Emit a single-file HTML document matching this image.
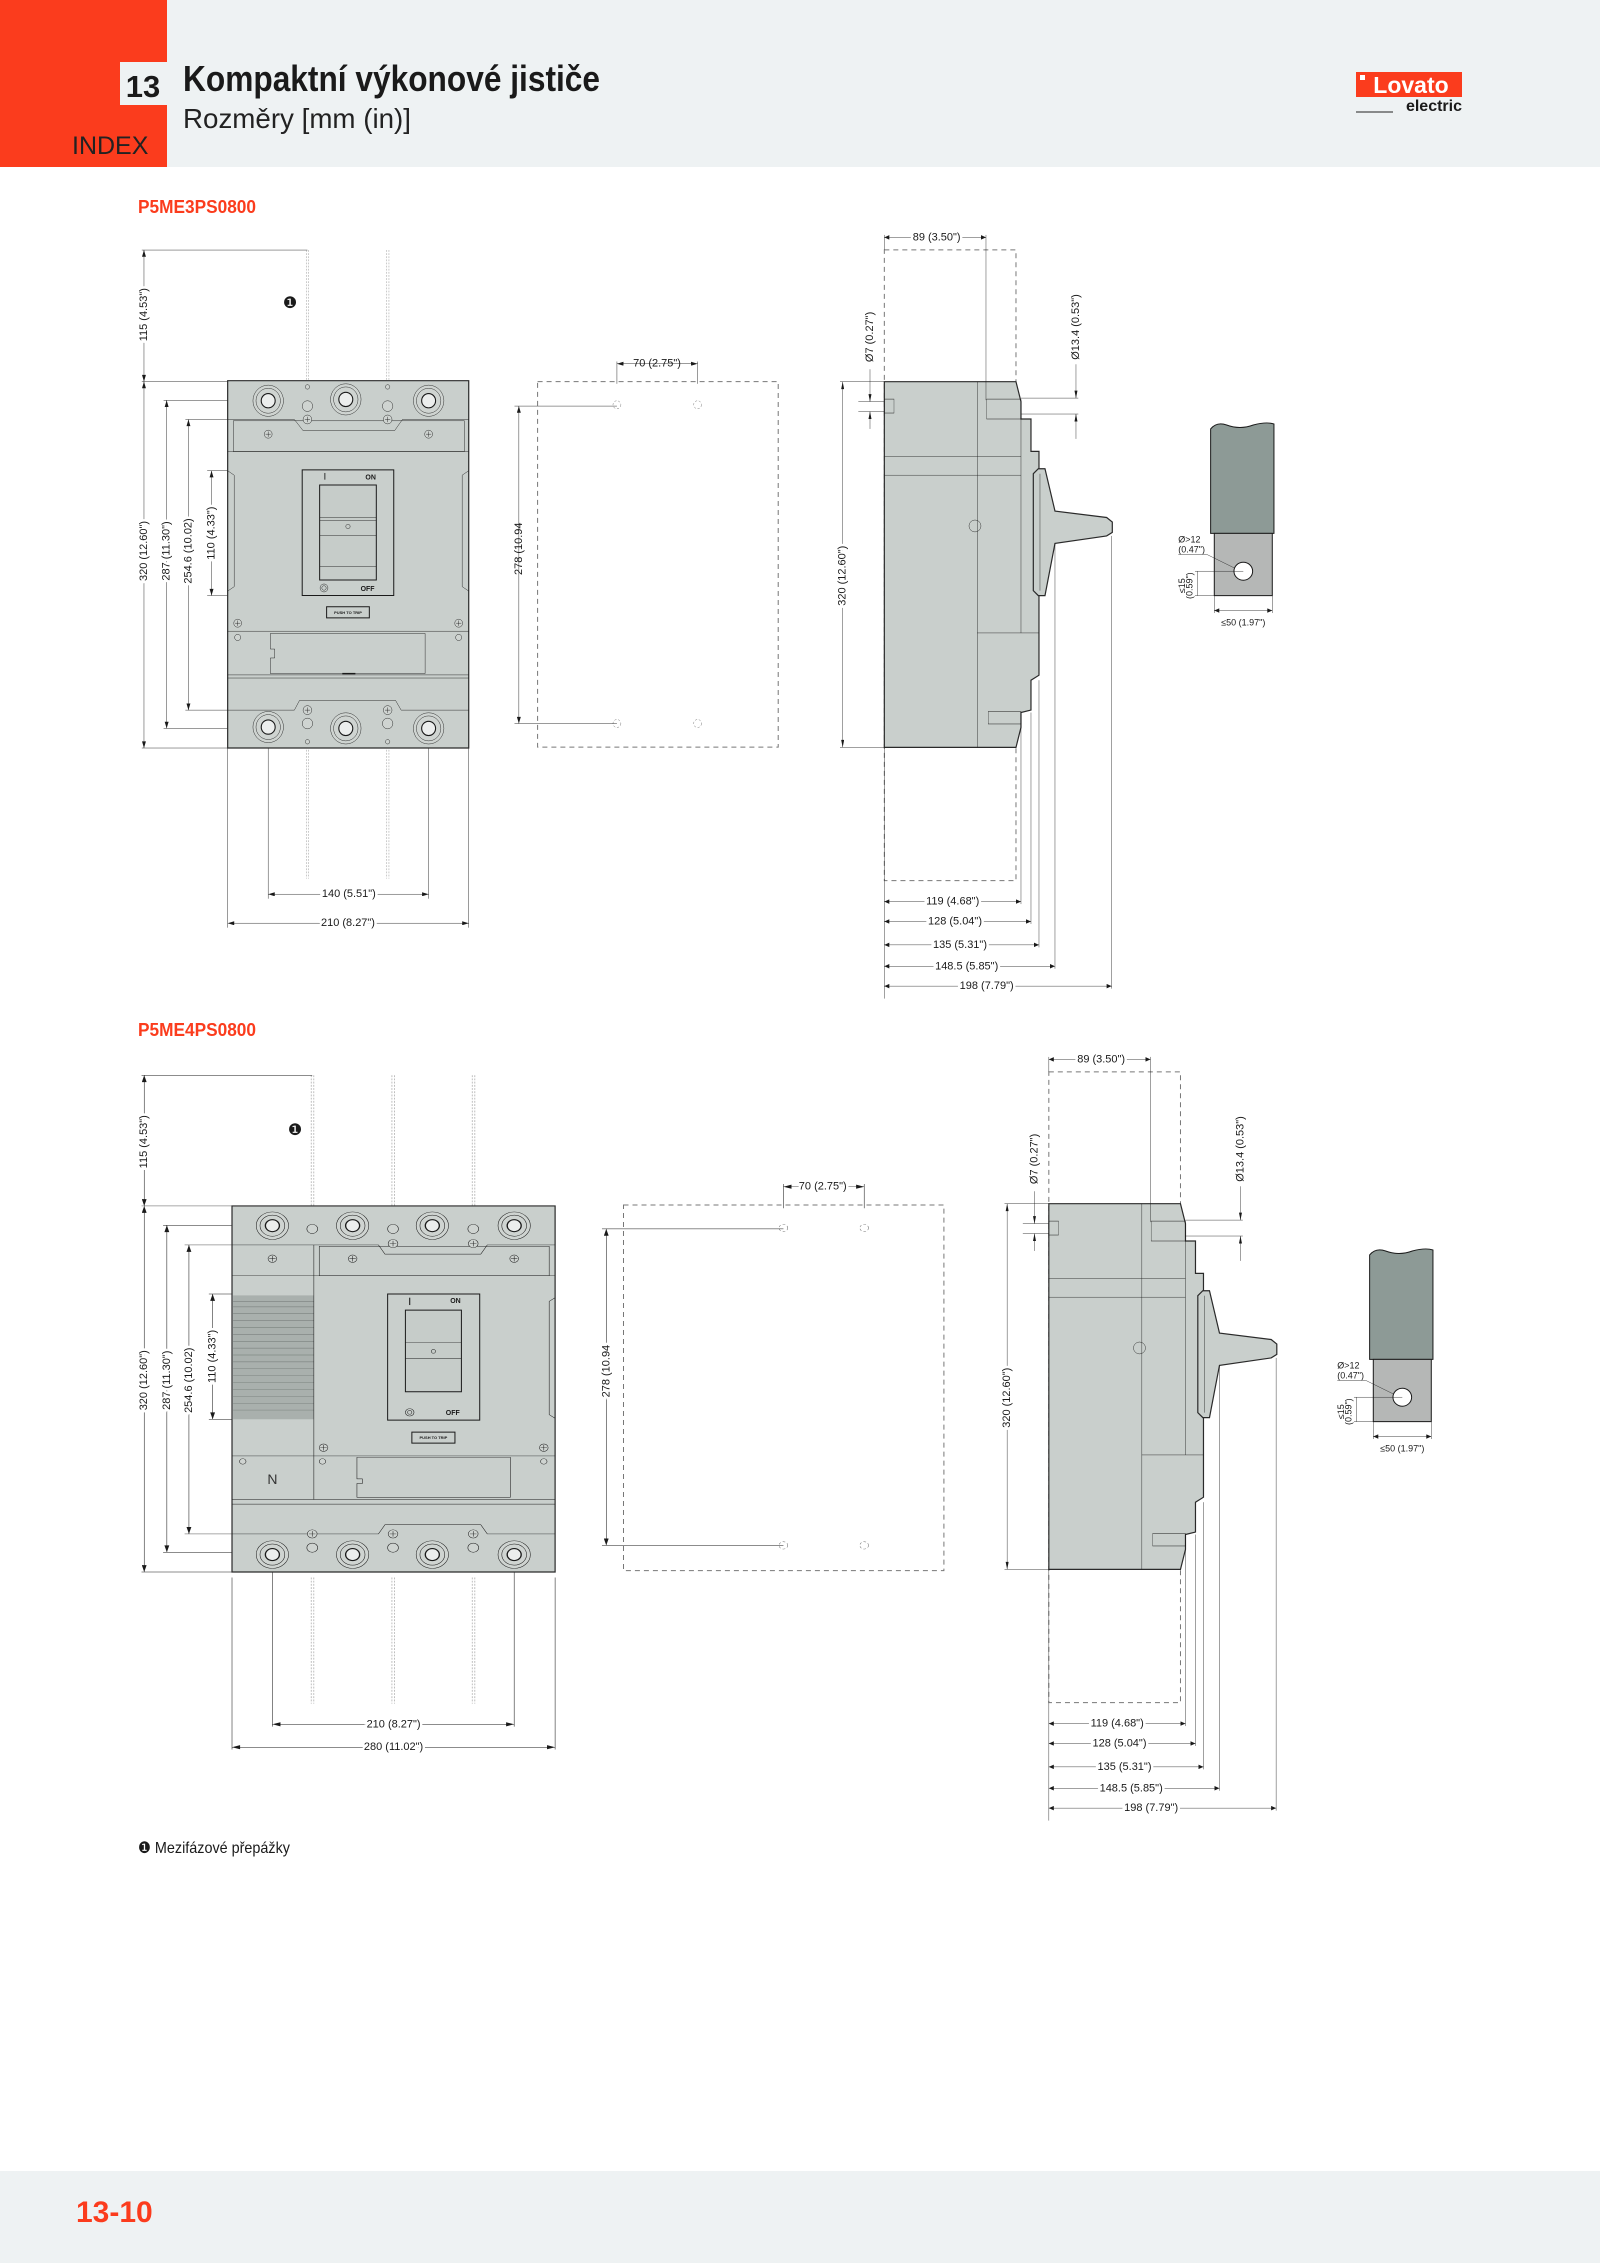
<!DOCTYPE html>
<html><head><meta charset="utf-8">
<style>
html,body{margin:0;padding:0;background:#fff}
body{width:1600px;height:2263px;position:relative;overflow:hidden;font-family:"Liberation Sans Narrow","Liberation Sans",sans-serif}
svg{position:absolute;left:0;top:0}
.l,.b,.dh,.ds,.bd{vector-effect:non-scaling-stroke}
.l{stroke:#1a1a1a;stroke-width:1}
.b{stroke:#2a2a2a;stroke-width:1.2;fill:#c9cfcc}
.ds{stroke:#777;stroke-width:1;fill:none;stroke-dasharray:5 4}
.dh{stroke:#666;stroke-width:1;fill:none;stroke-dasharray:5 4}
.bd{stroke:#888;stroke-width:1;fill:none;stroke-dasharray:4 3}
text{font-family:"Liberation Sans Narrow","Liberation Sans",sans-serif;fill:#1a1a1a}
.t{font-size:11px;text-anchor:middle;dominant-baseline:central;paint-order:stroke;stroke:#fff;stroke-width:5px}
.k{font-weight:bold;font-size:7px;text-anchor:middle;dominant-baseline:central}
</style></head><body>
<svg width="1600" height="2263" viewBox="0 0 1600 2263" xmlns="http://www.w3.org/2000/svg">
<defs>
<marker id="a" viewBox="0 0 10 6" refX="10" refY="3" markerWidth="16" markerHeight="9" markerUnits="userSpaceOnUse" orient="auto-start-reverse"><path d="M0,0 L10,3 L0,6z" fill="#1a1a1a"/></marker>
</defs>
<!-- header -->
<rect x="0" y="0" width="1600" height="167" fill="#eef2f3"/>
<rect x="0" y="0" width="167" height="167" fill="#fb3c1d"/>
<rect x="120" y="62" width="47" height="43" fill="#eef2f3"/>
<text x="143" y="97" style="font-size:31px;font-weight:bold;text-anchor:middle">13</text>
<text x="72" y="154" style="font-size:25px;fill:#222">INDEX</text>
<text x="183" y="91" textLength="417" lengthAdjust="spacingAndGlyphs" style="font-size:36px;font-weight:bold">Kompaktní výkonové jističe</text>
<text x="183" y="128" textLength="228" lengthAdjust="spacingAndGlyphs" style="font-size:28px;fill:#222">Rozměry [mm (in)]</text>
<rect x="1356" y="72" width="106" height="25" fill="#fb3c1d"/>
<rect x="1360" y="75" width="5" height="5" fill="#fff"/>
<text x="1411" y="93" style="font-size:23px;font-weight:bold;fill:#fff;text-anchor:middle">Lovato</text>
<text x="1462" y="111" style="font-size:16px;font-weight:bold;text-anchor:end">electric</text>
<line x1="1356" y1="112" x2="1393" y2="112" stroke="#222" stroke-width="1"/>
<text x="138" y="213" textLength="118" lengthAdjust="spacingAndGlyphs" style="font-size:18px;font-weight:bold;fill:#fb3c1d">P5ME3PS0800</text>
<text x="138" y="1036" textLength="118" lengthAdjust="spacingAndGlyphs" style="font-size:18px;font-weight:bold;fill:#fb3c1d">P5ME4PS0800</text>
<text x="138" y="1853" textLength="152" lengthAdjust="spacingAndGlyphs" style="font-size:16px">❶ Mezifázové přepážky</text>
<rect x="0" y="2171" width="1600" height="92" fill="#eef2f3"/>
<text x="76" y="2222" style="font-size:30px;font-weight:bold;fill:#fb3c1d">13-10</text>

<!-- ===== Section 1 front (zoom2 coords) ===== -->
<g transform="translate(120,230) scale(0.4359,0.4458)">
<g class="l" fill="none">
<line x1="50" y1="45" x2="430" y2="45"/><line x1="50" y1="340" x2="247" y2="340"/>
<line x1="55" y1="45" x2="55" y2="340" marker-start="url(#a)" marker-end="url(#a)"/>
<line x1="55" y1="340" x2="55" y2="1162" marker-start="url(#a)" marker-end="url(#a)"/>
<line x1="50" y1="1162" x2="247" y2="1162"/>
<line x1="100" y1="382" x2="340" y2="382"/><line x1="100" y1="1118" x2="340" y2="1118"/>
<line x1="107" y1="382" x2="107" y2="1118" marker-start="url(#a)" marker-end="url(#a)"/>
<line x1="150" y1="425" x2="250" y2="425"/><line x1="150" y1="1077" x2="250" y2="1077"/>
<line x1="157" y1="425" x2="157" y2="1077" marker-start="url(#a)" marker-end="url(#a)"/>
<line x1="200" y1="540" x2="405" y2="540"/><line x1="200" y1="820" x2="405" y2="820"/>
<line x1="210" y1="540" x2="210" y2="820" marker-start="url(#a)" marker-end="url(#a)"/>
<line x1="340" y1="1130" x2="340" y2="1500"/><line x1="708" y1="1130" x2="708" y2="1500"/>
<line x1="247" y1="1162" x2="247" y2="1565"/><line x1="800" y1="1162" x2="800" y2="1565"/>
<line x1="340" y1="1490" x2="708" y2="1490" marker-start="url(#a)" marker-end="url(#a)"/>
<line x1="247" y1="1555" x2="800" y2="1555" marker-start="url(#a)" marker-end="url(#a)"/>
</g>
<g class="bd"><line x1="428" y1="45" x2="428" y2="345"/><line x1="433" y1="45" x2="433" y2="345"/><line x1="612" y1="45" x2="612" y2="345"/><line x1="617" y1="45" x2="617" y2="345"/>
<line x1="428" y1="1145" x2="428" y2="1455"/><line x1="433" y1="1145" x2="433" y2="1455"/><line x1="612" y1="1145" x2="612" y2="1455"/><line x1="617" y1="1145" x2="617" y2="1455"/></g>
<rect class="b" x="247" y="338" width="553" height="824"/>
<g class="l" fill="none">
<path d="M247,425 H400 L420,450 H630 L648,425 H800"/>
<rect x="260" y="428" width="530" height="69"/>
<line x1="247" y1="497" x2="800" y2="497"/>
<path d="M247,540 L262,550 V800 L247,810"/><path d="M800,540 L785,550 V800 L800,810"/>
<line x1="247" y1="900" x2="800" y2="900"/>
<path d="M345,905 H700 V995 H345 V960 H355 V940 H345 Z"/>
<line x1="247" y1="998" x2="800" y2="998"/><line x1="247" y1="1005" x2="800" y2="1005"/>
<path d="M247,1077 H400 L412,1055 H632 L645,1077 H800"/>
<line x1="510" y1="995" x2="540" y2="995" stroke-width="3"/>
</g>
<g class="l" fill="#cfd4d1">
<circle cx="340" cy="383" r="35"/><circle cx="340" cy="383" r="28"/><circle cx="340" cy="383" r="16" fill="#eceeed" stroke-width="2.5"/>
<circle cx="518" cy="380" r="35"/><circle cx="518" cy="380" r="28"/><circle cx="518" cy="380" r="16" fill="#eceeed" stroke-width="2.5"/>
<circle cx="708" cy="383" r="35"/><circle cx="708" cy="383" r="28"/><circle cx="708" cy="383" r="16" fill="#eceeed" stroke-width="2.5"/>
<circle cx="340" cy="1115" r="35"/><circle cx="340" cy="1115" r="28"/><circle cx="340" cy="1115" r="16" fill="#eceeed" stroke-width="2.5"/>
<circle cx="518" cy="1118" r="35"/><circle cx="518" cy="1118" r="28"/><circle cx="518" cy="1118" r="16" fill="#eceeed" stroke-width="2.5"/>
<circle cx="708" cy="1118" r="35"/><circle cx="708" cy="1118" r="28"/><circle cx="708" cy="1118" r="16" fill="#eceeed" stroke-width="2.5"/>
<circle cx="430" cy="395" r="12"/><circle cx="614" cy="395" r="12"/><circle cx="430" cy="1107" r="12"/><circle cx="614" cy="1107" r="12"/>
<circle cx="430" cy="425" r="10"/><circle cx="614" cy="425" r="10"/><circle cx="430" cy="1077" r="10"/><circle cx="614" cy="1077" r="10"/>
<circle cx="340" cy="458" r="9"/><circle cx="708" cy="458" r="9"/><circle cx="270" cy="882" r="9"/><circle cx="777" cy="882" r="9"/>
<circle cx="270" cy="914" r="7"/><circle cx="777" cy="914" r="7"/>
<circle cx="430" cy="352" r="5"/><circle cx="614" cy="352" r="5"/><circle cx="430" cy="1148" r="5"/><circle cx="614" cy="1148" r="5"/>
</g>
<g class="l" fill="none"><path d="M424,425h12M430,419v12M608,425h12M614,419v12M424,1077h12M430,1071v12M608,1077h12M614,1071v12M334,458h12M340,452v12M702,458h12M708,452v12M264,882h12M270,876v12M771,882h12M777,876v12"/></g>
<rect class="l" x="418" y="538" width="210" height="282" fill="#c9cfcc"/>
<rect class="l" x="458" y="572" width="130" height="213" fill="#c6ccc9"/>
<g class="l" fill="none"><line x1="458" y1="645" x2="588" y2="645"/><line x1="458" y1="652" x2="588" y2="652"/><line x1="458" y1="685" x2="588" y2="685"/><line x1="458" y1="755" x2="588" y2="755"/><circle cx="523" cy="665" r="5"/><circle cx="468" cy="803" r="9"/><circle cx="468" cy="803" r="5"/><line x1="470" y1="545" x2="470" y2="560" stroke-width="2"/></g>
<rect class="l" x="474" y="845" width="98" height="25" fill="#c9cfcc"/>
<text transform="translate(575,556) scale(2.294,2.243)" class="k">ON</text>
<text transform="translate(568,806) scale(2.294,2.243)" class="k">OFF</text>
<text transform="translate(523,858) scale(2.294,2.243)" class="k" style="font-size:4px">PUSH TO TRIP</text>
<text transform="translate(390,165) scale(2.294,2.243)" style="font-size:16px;text-anchor:middle;dominant-baseline:central">❶</text>
<text class="t" transform="translate(55,190) scale(2.294,2.243) rotate(-90)">115 (4.53")</text>
<text class="t" transform="translate(55,720) scale(2.294,2.243) rotate(-90)">320 (12.60")</text>
<text class="t" transform="translate(107,720) scale(2.294,2.243) rotate(-90)">287 (11.30")</text>
<text class="t" transform="translate(157,720) scale(2.294,2.243) rotate(-90)">254.6 (10.02)</text>
<text class="t" transform="translate(210,680) scale(2.294,2.243) rotate(-90)">110 (4.33")</text>
<text class="t" transform="translate(525,1490) scale(2.294,2.243)">140 (5.51")</text>
<text class="t" transform="translate(523,1555) scale(2.294,2.243)">210 (8.27")</text>
<text class="t" transform="translate(1232,300) scale(2.294,2.243)">70 (2.75")</text>
<text class="t" transform="translate(915,715) scale(2.294,2.243) rotate(-90)">278 (10.94</text>
<!-- template -->
<rect class="ds" x="958" y="340" width="552" height="820"/>
<g class="dh"><circle cx="1140" cy="392" r="9"/><circle cx="1325" cy="392" r="9"/><circle cx="1140" cy="1107" r="9"/><circle cx="1325" cy="1107" r="9"/></g>
<g class="l" fill="none">
<line x1="1140" y1="300" x2="1325" y2="300" marker-start="url(#a)" marker-end="url(#a)"/>
<line x1="1140" y1="295" x2="1140" y2="345"/><line x1="1325" y1="295" x2="1325" y2="345"/>
<line x1="905" y1="395" x2="1140" y2="395"/><line x1="905" y1="1107" x2="1140" y2="1107"/>
<line x1="915" y1="395" x2="915" y2="1107" marker-start="url(#a)" marker-end="url(#a)"/>
</g>
</g>

<!-- ===== Section 1 side view (zoom3 coords) ===== -->
<g transform="translate(820,220) scale(0.3333,0.4975)">
<rect class="ds" x="193" y="60" width="395" height="1268"/>
<path class="b" d="M193,325 H588 L603,365 V400 H633 V465 H657 V915 L633,925 V985 L603,990 V1020 L588,1060 H193 Z"/>
<path class="b" d="M640,510 L655,500 H675 L705,585 L860,598 L877,607 V628 L860,635 L705,650 L675,755 H655 L640,745 Z"/>
<g class="l" fill="none">
<line x1="472" y1="325" x2="472" y2="1060"/>
<line x1="193" y1="475" x2="603" y2="475"/><line x1="193" y1="513" x2="603" y2="513"/>
<line x1="603" y1="400" x2="603" y2="830"/><line x1="472" y1="830" x2="657" y2="830"/>
<rect x="505" y="988" width="98" height="25"/>
<rect x="193" y="360" width="29" height="28"/><rect x="500" y="360" width="103" height="40"/>
<line x1="660" y1="510" x2="660" y2="745"/>
<ellipse cx="465" cy="615" rx="18" ry="12"/>
<line x1="193" y1="30" x2="193" y2="60"/><line x1="498" y1="30" x2="498" y2="362"/>
<line x1="193" y1="35" x2="498" y2="35" marker-start="url(#a)" marker-end="url(#a)"/>
<line x1="115" y1="365" x2="193" y2="365"/><line x1="115" y1="385" x2="193" y2="385"/>
<line x1="150" y1="300" x2="150" y2="365" marker-end="url(#a)"/><line x1="150" y1="420" x2="150" y2="385" marker-end="url(#a)"/>
<line x1="603" y1="358" x2="775" y2="358"/><line x1="603" y1="390" x2="775" y2="390"/>
<line x1="768" y1="290" x2="768" y2="358" marker-end="url(#a)"/><line x1="768" y1="440" x2="768" y2="390" marker-end="url(#a)"/>
<line x1="60" y1="325" x2="193" y2="325"/><line x1="60" y1="1060" x2="193" y2="1060"/>
<line x1="68" y1="325" x2="68" y2="1060" marker-start="url(#a)" marker-end="url(#a)"/>
<line x1="193" y1="1060" x2="193" y2="1565"/>
<line x1="603" y1="990" x2="603" y2="1375"/><line x1="633" y1="990" x2="633" y2="1415"/><line x1="657" y1="925" x2="657" y2="1462"/><line x1="705" y1="650" x2="705" y2="1505"/><line x1="875" y1="635" x2="875" y2="1545"/>
<line x1="193" y1="1370" x2="603" y2="1370" marker-start="url(#a)" marker-end="url(#a)"/>
<line x1="193" y1="1410" x2="633" y2="1410" marker-start="url(#a)" marker-end="url(#a)"/>
<line x1="193" y1="1457" x2="657" y2="1457" marker-start="url(#a)" marker-end="url(#a)"/>
<line x1="193" y1="1500" x2="705" y2="1500" marker-start="url(#a)" marker-end="url(#a)"/>
<line x1="193" y1="1540" x2="875" y2="1540" marker-start="url(#a)" marker-end="url(#a)"/>
</g>
<text class="t" transform="translate(350,35) scale(3,2.01)">89 (3.50")</text>
<text class="t" transform="translate(150,235) scale(3,2.01) rotate(-90)">Ø7 (0.27")</text>
<text class="t" transform="translate(768,215) scale(3,2.01) rotate(-90)">Ø13.4 (0.53")</text>
<text class="t" transform="translate(68,715) scale(3,2.01) rotate(-90)">320 (12.60")</text>
<text class="t" transform="translate(398,1370) scale(3,2.01)">119 (4.68")</text>
<text class="t" transform="translate(405,1410) scale(3,2.01)">128 (5.04")</text>
<text class="t" transform="translate(420,1457) scale(3,2.01)">135 (5.31")</text>
<text class="t" transform="translate(440,1500) scale(3,2.01)">148.5 (5.85")</text>
<text class="t" transform="translate(500,1540) scale(3,2.01)">198 (7.79")</text>
<!-- busbar -->
<path class="l" d="M1172,420 Q1190,405 1220,412 Q1260,422 1300,412 Q1340,405 1362,410 V630 H1172 Z" fill="#8d9a96"/>
<rect class="l" x="1183" y="630" width="174" height="125" fill="#b5b7b6"/>
<ellipse class="l" cx="1270" cy="706" rx="28" ry="18" fill="#fff"/>
<g class="l" fill="none"><line x1="1075" y1="672" x2="1160" y2="672"/><line x1="1160" y1="672" x2="1245" y2="700"/>
<line x1="1125" y1="706" x2="1270" y2="706"/><line x1="1125" y1="755" x2="1183" y2="755"/>
<line x1="1133" y1="706" x2="1133" y2="755"/>
<line x1="1183" y1="755" x2="1183" y2="790"/><line x1="1357" y1="755" x2="1357" y2="790"/>
<line x1="1183" y1="785" x2="1357" y2="785" marker-start="url(#a)" marker-end="url(#a)"/></g>
<text transform="translate(1075,648) scale(3,2.01)" style="font-size:9px">Ø&gt;12</text>
<text transform="translate(1075,668) scale(3,2.01)" style="font-size:9px">(0.47")</text>
<text transform="translate(1095,735) scale(3,2.01) rotate(-90)" style="font-size:9px;text-anchor:middle">≤15</text>
<text transform="translate(1118,735) scale(3,2.01) rotate(-90)" style="font-size:9px;text-anchor:middle">(0.59")</text>
<text transform="translate(1270,815) scale(3,2.01)" style="font-size:9px;text-anchor:middle">≤50 (1.97")</text>
</g>

<!-- ===== Section 2 front (zoom4 coords) ===== -->
<g transform="translate(120,1050) scale(0.5385,0.4587)">
<g class="l" fill="none">
<line x1="40" y1="55" x2="357" y2="55"/><line x1="40" y1="340" x2="208" y2="340"/><line x1="40" y1="1138" x2="208" y2="1138"/>
<line x1="45" y1="55" x2="45" y2="340" marker-start="url(#a)" marker-end="url(#a)"/>
<line x1="45" y1="340" x2="45" y2="1138" marker-start="url(#a)" marker-end="url(#a)"/>
<line x1="80" y1="382" x2="285" y2="382"/><line x1="80" y1="1095" x2="285" y2="1095"/>
<line x1="87" y1="382" x2="87" y2="1095" marker-start="url(#a)" marker-end="url(#a)"/>
<line x1="120" y1="425" x2="210" y2="425"/><line x1="120" y1="1055" x2="355" y2="1055"/>
<line x1="128" y1="425" x2="128" y2="1055" marker-start="url(#a)" marker-end="url(#a)"/>
<line x1="165" y1="532" x2="495" y2="532"/><line x1="165" y1="805" x2="360" y2="805"/>
<line x1="172" y1="532" x2="172" y2="805" marker-start="url(#a)" marker-end="url(#a)"/>
<line x1="283" y1="1110" x2="283" y2="1475"/><line x1="732" y1="1110" x2="732" y2="1475"/>
<line x1="208" y1="1150" x2="208" y2="1525"/><line x1="808" y1="1150" x2="808" y2="1525"/>
<line x1="283" y1="1470" x2="732" y2="1470" marker-start="url(#a)" marker-end="url(#a)"/>
<line x1="208" y1="1520" x2="808" y2="1520" marker-start="url(#a)" marker-end="url(#a)"/>
</g>
<g class="bd"><line x1="355" y1="55" x2="355" y2="345"/><line x1="360" y1="55" x2="360" y2="345"/><line x1="505" y1="55" x2="505" y2="345"/><line x1="510" y1="55" x2="510" y2="345"/><line x1="654" y1="55" x2="654" y2="345"/><line x1="659" y1="55" x2="659" y2="345"/>
<line x1="355" y1="1150" x2="355" y2="1425"/><line x1="360" y1="1150" x2="360" y2="1425"/><line x1="505" y1="1150" x2="505" y2="1425"/><line x1="510" y1="1150" x2="510" y2="1425"/><line x1="654" y1="1150" x2="654" y2="1425"/><line x1="659" y1="1150" x2="659" y2="1425"/></g>
<rect class="b" x="208" y="340" width="600" height="798"/>
<rect x="210" y="535" width="150" height="270" fill="#a9b0ad"/>
<g class="l" fill="none">
<path d="M210,548H360M210,560H360M210,575H360M210,590H360M210,605H360M210,620H360M210,635H360M210,650H360M210,665H360M210,680H360M210,695H360M210,710H360M210,725H360M210,740H360M210,755H360M210,770H360M210,785H360" stroke="#6f7673"/>
<path d="M208,425 H480 L492,445 H670 L682,425 H808"/>
<rect x="370" y="428" width="427" height="64"/>
<line x1="208" y1="492" x2="808" y2="492"/>
<line x1="360" y1="425" x2="360" y2="980"/>
<path d="M808,540 L797,548 V795 L808,803"/>
<line x1="208" y1="885" x2="808" y2="885"/>
<path d="M440,888 H725 V975 H440 V945 H450 V935 H440 Z"/>
<line x1="208" y1="980" x2="808" y2="980"/><line x1="208" y1="990" x2="808" y2="990"/>
<path d="M208,1055 H480 L492,1035 H670 L682,1055 H808"/>
</g>
<g class="l" fill="#cfd4d1">
<circle cx="283" cy="383" r="30"/><circle cx="283" cy="383" r="23"/><circle cx="283" cy="383" r="13" fill="#eceeed" stroke-width="2.5"/>
<circle cx="432" cy="383" r="30"/><circle cx="432" cy="383" r="23"/><circle cx="432" cy="383" r="13" fill="#eceeed" stroke-width="2.5"/>
<circle cx="580" cy="383" r="30"/><circle cx="580" cy="383" r="23"/><circle cx="580" cy="383" r="13" fill="#eceeed" stroke-width="2.5"/>
<circle cx="732" cy="383" r="30"/><circle cx="732" cy="383" r="23"/><circle cx="732" cy="383" r="13" fill="#eceeed" stroke-width="2.5"/>
<circle cx="283" cy="1100" r="30"/><circle cx="283" cy="1100" r="23"/><circle cx="283" cy="1100" r="13" fill="#eceeed" stroke-width="2.5"/>
<circle cx="432" cy="1100" r="30"/><circle cx="432" cy="1100" r="23"/><circle cx="432" cy="1100" r="13" fill="#eceeed" stroke-width="2.5"/>
<circle cx="580" cy="1100" r="30"/><circle cx="580" cy="1100" r="23"/><circle cx="580" cy="1100" r="13" fill="#eceeed" stroke-width="2.5"/>
<circle cx="732" cy="1100" r="30"/><circle cx="732" cy="1100" r="23"/><circle cx="732" cy="1100" r="13" fill="#eceeed" stroke-width="2.5"/>
<circle cx="357" cy="390" r="10"/><circle cx="507" cy="390" r="10"/><circle cx="656" cy="390" r="10"/>
<circle cx="507" cy="422" r="9"/><circle cx="656" cy="422" r="9"/>
<circle cx="357" cy="1055" r="9"/><circle cx="507" cy="1055" r="9"/><circle cx="656" cy="1055" r="9"/>
<circle cx="357" cy="1085" r="10"/><circle cx="507" cy="1085" r="10"/><circle cx="656" cy="1085" r="10"/>
<circle cx="283" cy="455" r="8"/><circle cx="432" cy="455" r="8"/><circle cx="732" cy="455" r="8"/>
<circle cx="378" cy="867" r="8"/><circle cx="787" cy="867" r="8"/>
<circle cx="228" cy="897" r="6"/><circle cx="376" cy="897" r="6"/><circle cx="787" cy="897" r="6"/>
<path fill="none" d="M501,422h12M507,416v12M650,422h12M656,416v12M351,1055h12M357,1049v12M501,1055h12M507,1049v12M650,1055h12M656,1049v12M277,455h12M283,449v12M426,455h12M432,449v12M726,455h12M732,449v12M372,867h12M378,861v12M781,867h12M787,861v12"/>
</g>
<rect class="l" x="497" y="532" width="171" height="275" fill="#c9cfcc"/>
<rect class="l" x="530" y="567" width="104" height="178" fill="#c6ccc9"/>
<g class="l" fill="none"><line x1="530" y1="637" x2="634" y2="637"/><line x1="530" y1="672" x2="634" y2="672"/><circle cx="582" cy="657" r="4"/><circle cx="538" cy="790" r="8"/><circle cx="538" cy="790" r="4"/><line x1="538" y1="540" x2="538" y2="556" stroke-width="2"/></g>
<rect class="l" x="542" y="833" width="80" height="24" fill="#c9cfcc"/>
<text transform="translate(623,548) scale(1.857,2.18)" class="k">ON</text>
<text transform="translate(618,792) scale(1.857,2.18)" class="k">OFF</text>
<text transform="translate(582,845) scale(1.857,2.18)" class="k" style="font-size:4px">PUSH TO TRIP</text>
<text transform="translate(283,935) scale(1.857,2.18)" style="font-size:14px;text-anchor:middle;dominant-baseline:central;fill:#333">N</text>
<text transform="translate(325,175) scale(1.857,2.18)" style="font-size:16px;text-anchor:middle;dominant-baseline:central">❶</text>
<text class="t" transform="translate(45,200) scale(1.857,2.18) rotate(-90)">115 (4.53")</text>
<text class="t" transform="translate(45,720) scale(1.857,2.18) rotate(-90)">320 (12.60")</text>
<text class="t" transform="translate(87,720) scale(1.857,2.18) rotate(-90)">287 (11.30")</text>
<text class="t" transform="translate(128,720) scale(1.857,2.18) rotate(-90)">254.6 (10.02)</text>
<text class="t" transform="translate(172,668) scale(1.857,2.18) rotate(-90)">110 (4.33")</text>
<text class="t" transform="translate(508,1470) scale(1.857,2.18)">210 (8.27")</text>
<text class="t" transform="translate(508,1520) scale(1.857,2.18)">280 (11.02")</text>
<!-- template -->
<rect class="ds" x="935" y="338" width="595" height="797"/>
<g class="dh"><circle cx="1232" cy="388" r="8"/><circle cx="1382" cy="388" r="8"/><circle cx="1232" cy="1080" r="8"/><circle cx="1382" cy="1080" r="8"/></g>
<g class="l" fill="none">
<line x1="1232" y1="298" x2="1382" y2="298" marker-start="url(#a)" marker-end="url(#a)"/>
<line x1="1232" y1="292" x2="1232" y2="345"/><line x1="1382" y1="292" x2="1382" y2="345"/>
<line x1="895" y1="390" x2="1232" y2="390"/><line x1="895" y1="1080" x2="1232" y2="1080"/>
<line x1="903" y1="390" x2="903" y2="1080" marker-start="url(#a)" marker-end="url(#a)"/>
</g>
<text class="t" transform="translate(1305,298) scale(1.857,2.18)">70 (2.75")</text>
<text class="t" transform="translate(903,700) scale(1.857,2.18) rotate(-90)">278 (10.94</text>
</g>

<!-- ===== Section 2 side view ===== -->
<g transform="translate(984.5,1042) scale(0.3333,0.4975)">
<rect class="ds" x="193" y="60" width="395" height="1268"/>
<path class="b" d="M193,325 H588 L603,365 V400 H633 V465 H657 V915 L633,925 V985 L603,990 V1020 L588,1060 H193 Z"/>
<path class="b" d="M640,510 L655,500 H675 L705,585 L860,598 L877,607 V628 L860,635 L705,650 L675,755 H655 L640,745 Z"/>
<g class="l" fill="none">
<line x1="472" y1="325" x2="472" y2="1060"/>
<line x1="193" y1="475" x2="603" y2="475"/><line x1="193" y1="513" x2="603" y2="513"/>
<line x1="603" y1="400" x2="603" y2="830"/><line x1="472" y1="830" x2="657" y2="830"/>
<rect x="505" y="988" width="98" height="25"/>
<rect x="193" y="360" width="29" height="28"/><rect x="500" y="360" width="103" height="40"/>
<line x1="660" y1="510" x2="660" y2="745"/>
<ellipse cx="465" cy="615" rx="18" ry="12"/>
<line x1="193" y1="30" x2="193" y2="60"/><line x1="498" y1="30" x2="498" y2="362"/>
<line x1="193" y1="35" x2="498" y2="35" marker-start="url(#a)" marker-end="url(#a)"/>
<line x1="115" y1="365" x2="193" y2="365"/><line x1="115" y1="385" x2="193" y2="385"/>
<line x1="150" y1="300" x2="150" y2="365" marker-end="url(#a)"/><line x1="150" y1="420" x2="150" y2="385" marker-end="url(#a)"/>
<line x1="603" y1="358" x2="775" y2="358"/><line x1="603" y1="390" x2="775" y2="390"/>
<line x1="768" y1="290" x2="768" y2="358" marker-end="url(#a)"/><line x1="768" y1="440" x2="768" y2="390" marker-end="url(#a)"/>
<line x1="60" y1="325" x2="193" y2="325"/><line x1="60" y1="1060" x2="193" y2="1060"/>
<line x1="68" y1="325" x2="68" y2="1060" marker-start="url(#a)" marker-end="url(#a)"/>
<line x1="193" y1="1060" x2="193" y2="1565"/>
<line x1="603" y1="990" x2="603" y2="1375"/><line x1="633" y1="990" x2="633" y2="1415"/><line x1="657" y1="925" x2="657" y2="1462"/><line x1="705" y1="650" x2="705" y2="1505"/><line x1="875" y1="635" x2="875" y2="1545"/>
<line x1="193" y1="1370" x2="603" y2="1370" marker-start="url(#a)" marker-end="url(#a)"/>
<line x1="193" y1="1410" x2="633" y2="1410" marker-start="url(#a)" marker-end="url(#a)"/>
<line x1="193" y1="1457" x2="657" y2="1457" marker-start="url(#a)" marker-end="url(#a)"/>
<line x1="193" y1="1500" x2="705" y2="1500" marker-start="url(#a)" marker-end="url(#a)"/>
<line x1="193" y1="1540" x2="875" y2="1540" marker-start="url(#a)" marker-end="url(#a)"/>
</g>
<text class="t" transform="translate(350,35) scale(3,2.01)">89 (3.50")</text>
<text class="t" transform="translate(150,235) scale(3,2.01) rotate(-90)">Ø7 (0.27")</text>
<text class="t" transform="translate(768,215) scale(3,2.01) rotate(-90)">Ø13.4 (0.53")</text>
<text class="t" transform="translate(68,715) scale(3,2.01) rotate(-90)">320 (12.60")</text>
<text class="t" transform="translate(398,1370) scale(3,2.01)">119 (4.68")</text>
<text class="t" transform="translate(405,1410) scale(3,2.01)">128 (5.04")</text>
<text class="t" transform="translate(420,1457) scale(3,2.01)">135 (5.31")</text>
<text class="t" transform="translate(440,1500) scale(3,2.01)">148.5 (5.85")</text>
<text class="t" transform="translate(500,1540) scale(3,2.01)">198 (7.79")</text>
</g>
<g transform="translate(979,1046) scale(0.3333,0.4975)">
<path class="l" d="M1172,420 Q1190,405 1220,412 Q1260,422 1300,412 Q1340,405 1362,410 V630 H1172 Z" fill="#8d9a96"/>
<rect class="l" x="1183" y="630" width="174" height="125" fill="#b5b7b6"/>
<ellipse class="l" cx="1270" cy="706" rx="28" ry="18" fill="#fff"/>
<g class="l" fill="none"><line x1="1075" y1="672" x2="1160" y2="672"/><line x1="1160" y1="672" x2="1245" y2="700"/>
<line x1="1125" y1="706" x2="1270" y2="706"/><line x1="1125" y1="755" x2="1183" y2="755"/>
<line x1="1133" y1="706" x2="1133" y2="755"/>
<line x1="1183" y1="755" x2="1183" y2="790"/><line x1="1357" y1="755" x2="1357" y2="790"/>
<line x1="1183" y1="785" x2="1357" y2="785" marker-start="url(#a)" marker-end="url(#a)"/></g>
<text transform="translate(1075,648) scale(3,2.01)" style="font-size:9px">Ø&gt;12</text>
<text transform="translate(1075,668) scale(3,2.01)" style="font-size:9px">(0.47")</text>
<text transform="translate(1095,735) scale(3,2.01) rotate(-90)" style="font-size:9px;text-anchor:middle">≤15</text>
<text transform="translate(1118,735) scale(3,2.01) rotate(-90)" style="font-size:9px;text-anchor:middle">(0.59")</text>
<text transform="translate(1270,815) scale(3,2.01)" style="font-size:9px;text-anchor:middle">≤50 (1.97")</text>
</g>
</svg>
</body></html>
